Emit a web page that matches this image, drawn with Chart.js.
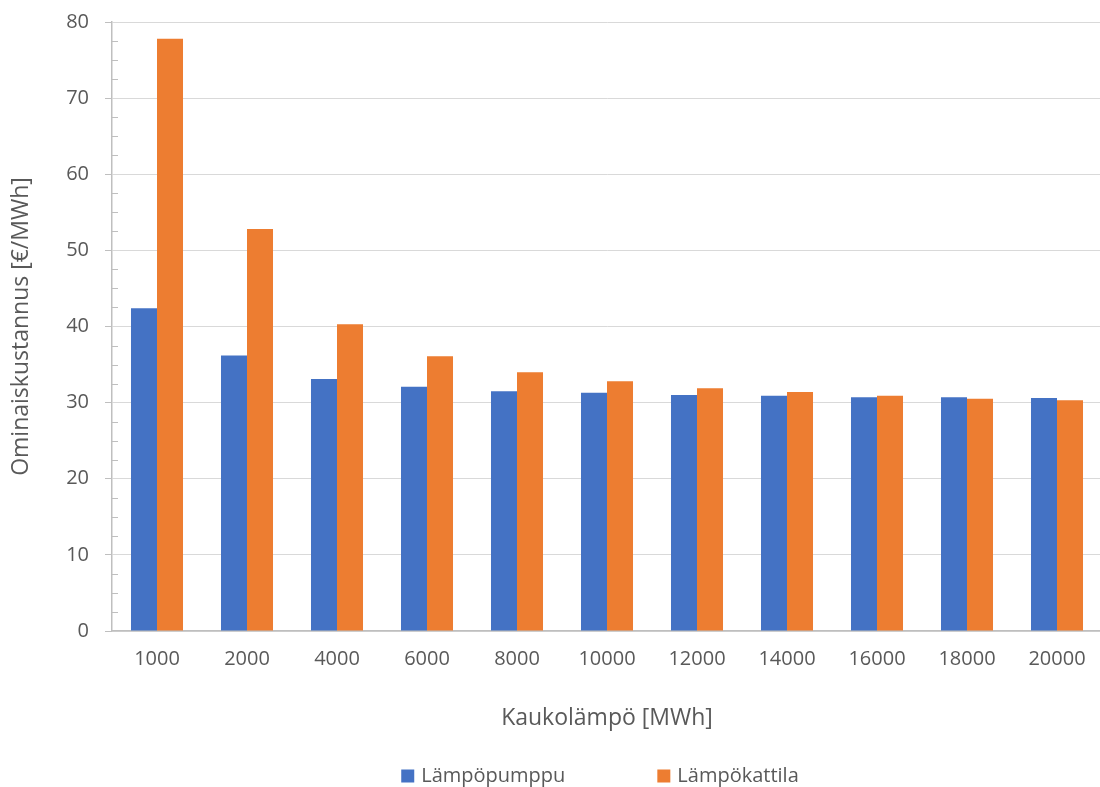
<!DOCTYPE html>
<html lang="fi">
<head>
    <meta charset="UTF-8">
    <title>Ominaiskustannus</title>
    <script src="https://cdn.jsdelivr.net/npm/chart.js"></script>
    <style>
        html, body { margin: 0; padding: 0; background: #ffffff; overflow: hidden; }
        #wrap { width: 1102px; height: 787px; }
    </style>
</head>
<body>
    <div id="wrap"><canvas id="kustannusChart"></canvas></div>

    <script>
        // Kaukolämmön määrä (MWh)
        const kaukolampo = ['1000', '2000', '4000', '6000', '8000', '10000', '12000', '14000', '16000', '18000', '20000'];
        // Ominaiskustannus €/MWh
        const lampopumppu = [42.4, 36.2, 33.1, 32.1, 31.5, 31.3, 31.0, 30.9, 30.7, 30.7, 30.6];
        const lampokattila = [77.8, 52.8, 40.3, 36.1, 34.0, 32.8, 31.9, 31.4, 30.9, 30.5, 30.3];
        const yTicks = [0, 10, 20, 30, 40, 50, 60, 70, 80];

        const tekstiVari = '#595959';
        const fontti = '"Open Sans", sans-serif';

        // pienet väliviivat y-akselille (2,5 välein, sisäänpäin)
        const valiviivat = {
            id: 'valiviivat',
            beforeDatasetsDraw(chart) {
                const y = chart.scales.y;
                const ctx = chart.ctx;
                ctx.save();
                ctx.strokeStyle = '#bfbfbf';
                ctx.lineWidth = 1;
                for (let v = 2.5; v < 80; v += 2.5) {
                    if (v % 10 === 0) continue;
                    const py = Math.round(y.getPixelForValue(v)) + 0.5;
                    ctx.beginPath();
                    ctx.moveTo(y.right, py);
                    ctx.lineTo(y.right + 6, py);
                    ctx.stroke();
                }
                ctx.restore();
            }
        };

        // selite alareunaan
        const selite = {
            id: 'selite',
            afterDraw(chart) {
                const ctx = chart.ctx;
                const koko = 13, vali = 7, rako = 92;
                ctx.save();
                ctx.font = '20px ' + fontti;
                ctx.textBaseline = 'middle';
                const sarjat = chart.data.datasets;
                const leveydet = sarjat.map(d => koko + vali + ctx.measureText(d.label).width);
                const yhteensa = leveydet.reduce((a, b) => a + b, 0) + rako * (sarjat.length - 1);
                let x = 600 - yhteensa / 2;
                const yk = 776;
                sarjat.forEach((d, i) => {
                    ctx.fillStyle = d.backgroundColor;
                    ctx.fillRect(x, yk - koko / 2, koko, koko);
                    ctx.fillStyle = tekstiVari;
                    ctx.fillText(d.label, x + koko + vali, yk);
                    x += leveydet[i] + rako;
                });
                ctx.restore();
            }
        };

        const ctx = document.getElementById('kustannusChart').getContext('2d');
        new Chart(ctx, {
            type: 'bar',
            data: {
                labels: kaukolampo,
                datasets: [
                    { label: 'Lämpöpumppu', data: lampopumppu, backgroundColor: '#4472c4' },
                    { label: 'Lämpökattila', data: lampokattila, backgroundColor: '#ed7d31' }
                ]
            },
            options: {
                responsive: true,
                maintainAspectRatio: false,
                animation: false,
                layout: { padding: { top: 22, right: 0, bottom: 53, left: 0 } },
                datasets: {
                    bar: { categoryPercentage: 0.578, barPercentage: 1.0 }
                },
                plugins: {
                    legend: { display: false },
                    tooltip: { enabled: false }
                },
                scales: {
                    x: {
                        grid: { display: false, drawTicks: false },
                        border: { display: true, color: '#bfbfbf', width: 1.5 },
                        ticks: { color: tekstiVari, font: { family: fontti, size: 20 }, padding: 16, maxRotation: 0 },
                        title: {
                            display: true,
                            text: 'Kaukolämpö [MWh]',
                            color: tekstiVari,
                            font: { family: fontti, size: 23 },
                            padding: { top: 0, bottom: 2 }
                        },
                        afterFit(scale) { scale.height = 103; }
                    },
                    y: {
                        min: 0,
                        max: 80,
                        afterBuildTicks(scale) { scale.ticks = yTicks.map(v => ({ value: v })); },
                        grid: { color: '#d9d9d9', lineWidth: 1, tickLength: 7, tickColor: '#bfbfbf' },
                        border: { display: true, color: '#bfbfbf', width: 1.5 },
                        ticks: { color: tekstiVari, font: { family: fontti, size: 20 }, padding: 16 },
                        title: {
                            display: true,
                            text: 'Ominaiskustannus [€/MWh]',
                            color: tekstiVari,
                            font: { family: fontti, size: 23 },
                            padding: { top: 8, bottom: 0 }
                        },
                        afterFit(scale) {
                            scale.width = 112;
                            scale.paddingTop = 12;
                            scale.paddingBottom = 12;
                        }
                    }
                }
            },
            plugins: [valiviivat, selite]
        });
    </script>
</body>
</html>
